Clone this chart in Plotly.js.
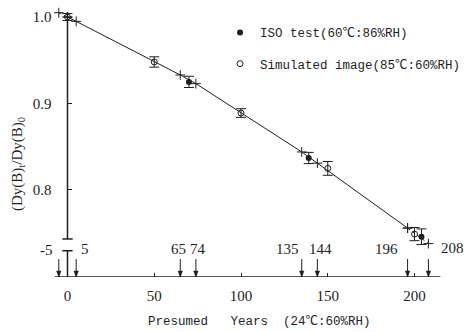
<!DOCTYPE html>
<html>
<head>
<meta charset="utf-8">
<script src="https://cdn.plot.ly/plotly-3.0.1.min.js"></script>
<style>html,body{margin:0;padding:0;background:#fff;}#chart{width:465px;height:332px;}</style>
</head>
<body>
<div id="chart"></div>
<script>
// ---- data ----
var curveYears = [0, 5, 65, 74, 135, 144, 196];
var curveRatio = [1.000, 0.995, 0.933, 0.923, 0.844, 0.831, 0.756];
var extLeftYears = [-5, 0];
var extLeftRatio = [1.005, 1.000];
var extRightYears = [196, 208];
var extRightRatio = [0.756, 0.738];

var simYears = [0, 50, 100, 150, 200];
var simRatio = [1.000, 0.948, 0.889, 0.825, 0.749];
var simErr = [0.004, 0.006, 0.005, 0.008, 0.0076];

var isoYears = [70, 139, 204];
var isoRatio = [0.925, 0.837, 0.746];
var isoErr = [0.0065, 0.0065, 0.009];

var markedYears = [-5, 5, 65, 74, 135, 144, 196, 208];
var markedLabels = ['-5', '5', '65', '74', '135', '144', '196', '208'];
var xTickVals = [0, 50, 100, 150, 200];
var yTickVals = [0.8, 0.9, 1.0];
var yTickText = ['0.8', '0.9', '1.0'];

// ---- styles / layout helpers ----
var ink = '#1e1e1e';
var labelShiftX = [-12, 9, -2, 2, -14, 3, -21, 24];
var labelShiftY = [27, 28, 28, 28, 28, 28, 28, 29];
var xMin = -21.6, xMax = 226.2, yMin = 0.6994, yMax = 1.0139;
var pxX = (xMax - xMin) / 430;   // data units per pixel, x
var pxY = (yMax - yMin) / 272;   // data units per pixel, y
var serif = 'Liberation Serif, Times New Roman, serif';
var mono = 'Liberation Mono, Noto Sans CJK SC, monospace';

var traces = [
  {x: extLeftYears, y: extLeftRatio, mode: 'lines+markers', showlegend: false,
   line: {color: ink, width: 1, dash: '3px,3px'},
   marker: {symbol: 'cross-thin-open', size: 7, color: ink, line: {color: ink, width: 1}}},
  {x: curveYears, y: curveRatio, mode: 'lines+markers', showlegend: false,
   line: {color: ink, width: 1},
   marker: {symbol: 'cross-thin-open', size: 7, color: ink, line: {color: ink, width: 1}}},
  {x: extRightYears, y: extRightRatio, mode: 'lines+markers', showlegend: false,
   line: {color: ink, width: 1, dash: '3px,3px'},
   marker: {symbol: 'cross-thin-open', size: 7, color: ink, line: {color: ink, width: 1}}},
  {x: isoYears, y: isoRatio, mode: 'markers', name: 'ISO test(60℃:86%RH)', legendgroup: 'a',
   marker: {symbol: 'circle', size: 6, color: ink},
   error_y: {type: 'data', array: isoErr, visible: true, color: ink, thickness: 1, width: 5}},
  {x: simYears, y: simRatio, mode: 'markers', name: 'Simulated image(85℃:60%RH)', legendgroup: 'b',
   marker: {symbol: 'circle-open', size: 6, color: ink, line: {color: ink, width: 1}},
   error_y: {type: 'data', array: simErr, visible: true, color: ink, thickness: 1, width: 5}}
];

var shapes = [
  {type: 'line', xref: 'x', yref: 'y', x0: 0, x1: 0, y0: 0.7434, y1: 1.0058, line: {color: ink, width: 1.5}},
  {type: 'line', xref: 'x', yref: 'y', x0: -3, x1: 3, y0: 0.7434, y1: 0.7434, line: {color: ink, width: 1.5}},
  {type: 'line', xref: 'x', yref: 'y', x0: -3, x1: 3, y0: 0.7298, y1: 0.7298, line: {color: ink, width: 1.5}},
  {type: 'line', xref: 'x', yref: 'y', x0: 0, x1: 0, y0: yMin, y1: 0.7298, line: {color: ink, width: 1.5}},
  {type: 'line', xref: 'x', yref: 'y', x0: -7.2, x1: 214.9, y0: yMin, y1: yMin, line: {color: ink, width: 1.5}}
];
// arrows pointing down to the marked years
markedYears.forEach(function (yr) {
  shapes.push({type: 'line', xref: 'x', yref: 'y', x0: yr, x1: yr, y0: yMin, y1: yMin + 18 * pxY,
    line: {color: ink, width: 1}});
  shapes.push({type: 'path', xref: 'x', yref: 'y',
    path: 'M' + (yr - 2.2 * pxX) + ',' + (yMin + 6 * pxY) + ' L' + (yr + 2.2 * pxX) + ',' + (yMin + 6 * pxY) +
          ' L' + yr + ',' + yMin + ' Z',
    fillcolor: ink, line: {color: ink, width: 0.5}});
});

var annotations = [];
markedYears.forEach(function (yr, i) {
  annotations.push({x: yr, y: yMin, xref: 'x', yref: 'y', text: markedLabels[i], showarrow: false,
    xshift: labelShiftX[i], yshift: labelShiftY[i], font: {family: serif, size: 15, color: ink}});
});
annotations.push({xref: 'paper', yref: 'paper', x: 0.5326, y: -0.1654, showarrow: false,
  xanchor: 'center', yanchor: 'middle',
  text: 'Presumed\u00a0\u00a0\u00a0Years\u00a0\u00a0(24℃:60%RH)', font: {family: mono, size: 12.5, color: ink}});
annotations.push({xref: 'paper', yref: 'paper', x: -0.0279, y: 0.4154, showarrow: false, textangle: -90,
  xanchor: 'center', yanchor: 'middle',
  text: '(Dy(B)<sub>t</sub>/Dy(B)<sub>0</sub>', font: {family: serif, size: 15, color: ink}});

var layout = {
  width: 465, height: 332,
  margin: {l: 30, r: 5, t: 5, b: 55, autoexpand: false},
  paper_bgcolor: '#fff', plot_bgcolor: '#fff',
  showlegend: true,
  legend: {x: 0.442, y: 0.953, xanchor: 'left', yanchor: 'top', bgcolor: 'rgba(0,0,0,0)',
    font: {family: mono, size: 12.5, color: ink}, tracegroupgap: 12, traceorder: 'grouped'},
  xaxis: {range: [xMin, xMax], showgrid: false, zeroline: false, showline: false,
    tickvals: xTickVals, ticks: 'inside', ticklen: 4, tickcolor: ink, tickwidth: 1,
    ticklabelstandoff: 8, tickfont: {family: serif, size: 15, color: ink}},
  yaxis: {range: [yMin, yMax], showgrid: false, zeroline: false, showline: false,
    anchor: 'free', position: 0.0872,
    tickvals: yTickVals, ticktext: yTickText, ticks: 'inside', ticklen: 4, tickcolor: ink, tickwidth: 1,
    ticklabelstandoff: 16, tickfont: {family: serif, size: 15, color: ink}},
  shapes: shapes,
  annotations: annotations
};

Plotly.newPlot('chart', traces, layout, {displayModeBar: false, staticPlot: true});
</script>
</body>
</html>
